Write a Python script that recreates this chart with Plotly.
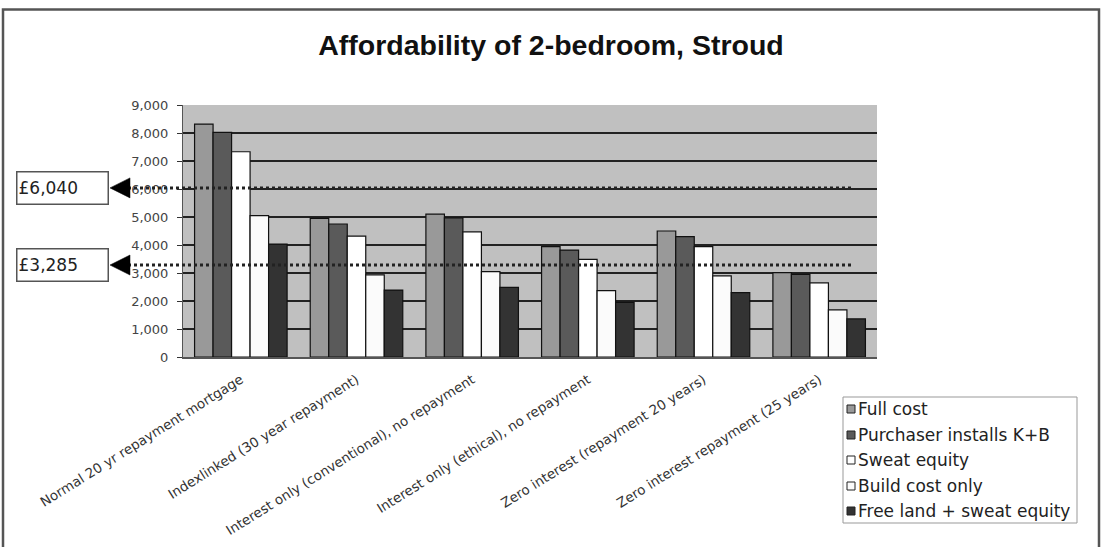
import plotly.graph_objects as go

# Monthly affordability figures for a 2-bedroom home in Stroud
categories = [
    "Normal 20 yr repayment mortgage",
    "Indexlinked (30 year repayment)",
    "Interest only (conventional), no repayment",
    "Interest only (ethical), no repayment",
    "Zero interest (repayment 20 years)",
    "Zero interest repayment (25 years)",
]
full_cost = [8320, 4950, 5100, 3940, 4500, 3010]
purchaser_kb = [8020, 4750, 4970, 3820, 4300, 2950]
sweat_equity = [7330, 4320, 4470, 3490, 3940, 2650]
build_cost_only = [5050, 2930, 3050, 2370, 2900, 1680]
free_land_sweat = [4030, 2390, 2490, 1950, 2300, 1360]

series_names = [
    "Full cost",
    "Purchaser installs K+B",
    "Sweat equity",
    "Build cost only",
    "Free land + sweat equity",
]
series_values = [full_cost, purchaser_kb, sweat_equity, build_cost_only, free_land_sweat]
series_colors = ["#999999", "#5a5a5a", "#ffffff", "#fbfbfb", "#333333"]

# Income thresholds marked with dotted lines
thresholds = [6040, 3285]
threshold_labels = ["£6,040", "£3,285"]

y_ticks = list(range(0, 10000, 1000))
y_tick_text = [f"{v:,}" for v in y_ticks]

WIDE = "DejaVu Sans, Verdana, sans-serif"
TITLE_FONT = "Liberation Sans, Arial, sans-serif"

fig = go.Figure()
for name, vals, col in zip(series_names, series_values, series_colors):
    fig.add_trace(go.Bar(
        x=categories, y=vals, name=name, showlegend=False,
        marker=dict(color=col, line=dict(color="#111111", width=1.2)),
    ))

# plot area pixel geometry (figure is 1107 x 547)
L, R, T, B = 183, 877, 105, 357
W, H = R - L, B - T


def px_x(p):
    return (p - L) / W


def px_y(p):
    return (B - p) / H


shapes = []
annotations = []
for val, lab in zip(thresholds, threshold_labels):
    # dotted threshold line
    shapes.append(dict(type="line", xref="paper", yref="y",
                       x0=px_x(128), x1=px_x(853), y0=val, y1=val,
                       line=dict(color="#222222", width=3, dash="dot"), layer="above"))
    # arrow head pointing at the label box
    hh = 10 / H * 9000
    x_tip, x_base = px_x(110), px_x(130)
    shapes.append(dict(type="path", xref="paper", yref="y",
                       path=f"M {x_tip} {val} L {x_base} {val + hh} L {x_base} {val - hh} Z",
                       fillcolor="#000000", line=dict(color="#000000", width=0.5)))
    annotations.append(dict(
        xref="paper", yref="y", x=px_x(16), y=val, xanchor="left", yanchor="middle",
        text=lab, showarrow=False, align="left", width=88, height=29,
        font=dict(family=WIDE, size=17, color="#222222"),
        bgcolor="#ffffff", bordercolor="#555555", borderwidth=1.5, borderpad=1,
    ))

# legend box drawn in pixel space beside the plot
leg_left, leg_right, leg_top, leg_bottom = 843, 1077, 397, 523
shapes.append(dict(type="rect", xref="paper", yref="paper",
                   x0=px_x(leg_left), x1=px_x(leg_right), y0=px_y(leg_bottom), y1=px_y(leg_top),
                   line=dict(color="#999999", width=1), fillcolor="#ffffff"))
leg_rows = [409, 435, 460, 486, 511]
for name, col, yc in zip(series_names, series_colors, leg_rows):
    shapes.append(dict(type="rect", xref="paper", yref="paper",
                       x0=px_x(847), x1=px_x(855), y0=px_y(yc + 4), y1=px_y(yc - 4),
                       line=dict(color="#222222", width=1), fillcolor=col))
    annotations.append(dict(
        xref="paper", yref="paper", x=px_x(856), y=px_y(yc), xanchor="left", yanchor="middle",
        text=name, showarrow=False, font=dict(family=WIDE, size=17, color="#222222"),
    ))

# outer chart frame
shapes.append(dict(type="rect", xref="paper", yref="paper",
                   x0=px_x(3), x1=px_x(1099), y0=px_y(600), y1=px_y(9.5),
                   line=dict(color="#555555", width=2.5), fillcolor="rgba(0,0,0,0)"))

fig.update_layout(
    width=1107, height=547,
    margin=dict(l=L, r=1107 - R, t=T, b=547 - B, autoexpand=False),
    paper_bgcolor="#ffffff", plot_bgcolor="#c0c0c0",
    title=dict(text="<b>Affordability of 2-bedroom, Stroud</b>", x=px_x(551), xanchor="center",
               xref="paper", y=1 - 45 / 547, yanchor="middle",
               font=dict(family=TITLE_FONT, size=28.5, color="#111111")),
    barmode="group", bargap=0.2, bargroupgap=0.0,
    showlegend=False,
    shapes=shapes, annotations=annotations,
    font=dict(family=WIDE),
)

fig.update_xaxes(
    tickangle=-32, tickfont=dict(family=WIDE, size=13.5, color="#333333"),
    ticklabelstandoff=8,
    showline=True, linecolor="#555555", linewidth=1.5,
    ticks="", showgrid=False,
)
fig.update_yaxes(
    range=[0, 9000], tickvals=y_ticks, ticktext=y_tick_text,
    tickfont=dict(family=WIDE, size=13, color="#444444"),
    ticklabelstandoff=6,
    showgrid=True, gridcolor="#222222", gridwidth=1.8,
    ticks="outside", ticklen=5, tickcolor="#333333",
    showline=True, linecolor="#555555", linewidth=1, mirror=False,
    zeroline=False,
)

fig.write_html("out.html")
